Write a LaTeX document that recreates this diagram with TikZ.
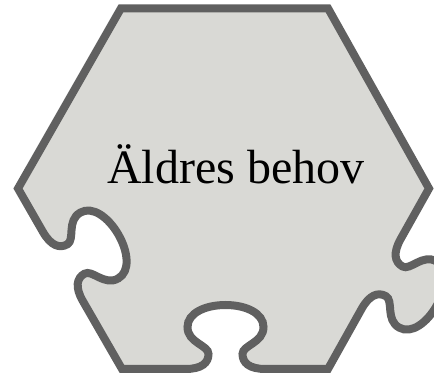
\documentclass[tikz,border=0pt]{standalone}
\usepackage{fontspec}
\setmainfont{Liberation Serif}
\definecolor{piecefill}{RGB}{217,217,213}
\definecolor{piecedraw}{RGB}{96,96,96}
\tikzset{
  piece/.style={fill=piecefill, draw=piecedraw, line width=8pt, line join=miter},
  label/.style={font=\fontsize{48}{56}\selectfont, text=black, inner sep=0pt, anchor=base}
}
\begin{document}
\begin{tikzpicture}[x=1pt,y=1pt]
\useasboundingbox (0,0) rectangle (434,374);
\clip (0,0) rectangle (434,374);
\coordinate (tl) at (121,365.7);
\coordinate (tr) at (328,365.7);
\coordinate (r)  at (429,185.5);
\coordinate (br) at (328,5);
\coordinate (bl) at (122,5);
\coordinate (l)  at (18,185.5);
\coordinate (tabR) at (381.1,100);
\coordinate (holeB) at (225.5,5);
\coordinate (holeL) at (62.9,107.5);
\path[piece] (tl) -- (tr) -- (r)
  {[shift={(tabR)},rotate=240.8]
    -- (-40,0) .. controls (-24,0) and (-17,6) .. (-17,15)
    .. controls (-17,24) and (-38,26) .. (-38,42)
    .. controls (-38,56) and (-20,64) .. (0,64)
    .. controls (20,64) and (38,56) .. (38,42)
    .. controls (38,26) and (17,24) .. (17,15)
    .. controls (17,6) and (24,0) .. (40,0)}
  -- (br)
  {[shift={(holeB)},xscale=-1]
    -- (-40,0) .. controls (-24,0) and (-17,6) .. (-17,15)
    .. controls (-17,24) and (-38,26) .. (-38,42)
    .. controls (-38,56) and (-20,64) .. (0,64)
    .. controls (20,64) and (38,56) .. (38,42)
    .. controls (38,26) and (17,24) .. (17,15)
    .. controls (17,6) and (24,0) .. (40,0)}
  -- (bl)
  {[shift={(holeL)},rotate=120,yscale=-1]
    -- (-40,0) .. controls (-24,0) and (-17,6) .. (-17,15)
    .. controls (-17,24) and (-38,26) .. (-38,42)
    .. controls (-38,56) and (-20,64) .. (0,64)
    .. controls (20,64) and (38,56) .. (38,42)
    .. controls (38,26) and (17,24) .. (17,15)
    .. controls (17,6) and (24,0) .. (40,0)}
  -- (l) -- cycle;
\node[label] (txt) at (235.8,190.7) {Äldres behov};
\end{tikzpicture}
\end{document}
